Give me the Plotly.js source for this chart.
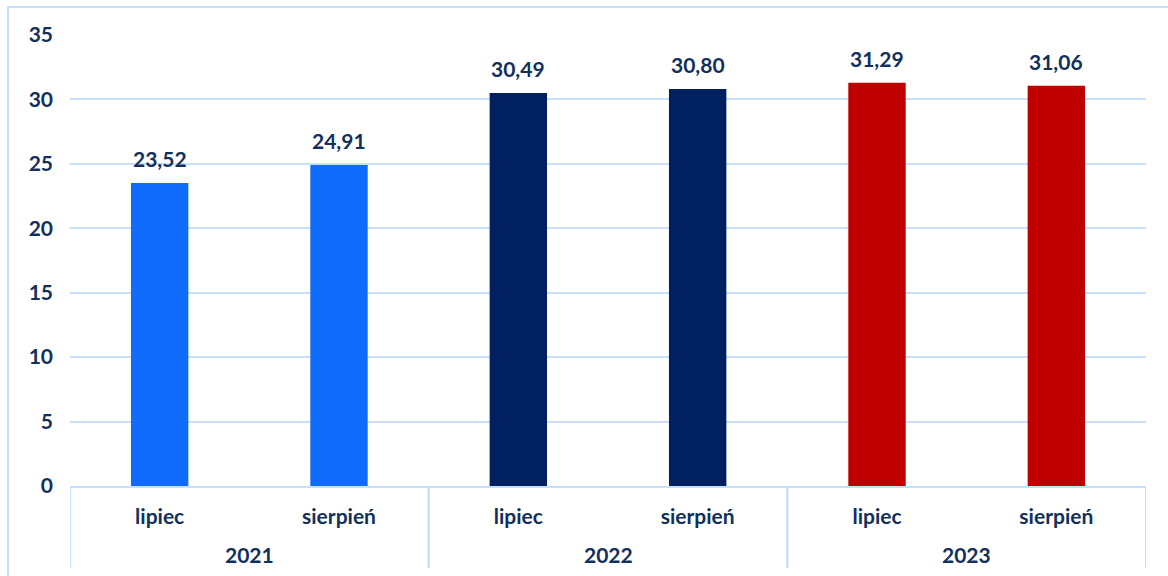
<!DOCTYPE html>
<html>
<head>
<meta charset="utf-8">
<script src="https://cdn.plot.ly/plotly-3.0.1.min.js"></script>
<style>
  html, body { margin: 0; padding: 0; background: #fff; }
  #frame { position: absolute; left: 7px; top: 6px; width: 1200px; height: 600px;
           border-left: 2px solid #c9defa; border-top: 2px solid #c9defa; box-sizing: border-box; }
  #chart { position: absolute; left: 0; top: 0; width: 1168px; height: 576px; }
</style>
</head>
<body>
<div id="frame"></div>
<div id="chart"></div>
<script>
// Monthly values per year
const years = ['2021', '2021', '2022', '2022', '2023', '2023'];
const months = ['lipiec', 'sierpień', 'lipiec', 'sierpień', 'lipiec', 'sierpień'];
const values = [23.52, 24.91, 30.49, 30.80, 31.29, 31.06];
const barColors = ['#0f6bfa', '#0f6bfa', '#002060', '#002060', '#c00000', '#c00000'];

const textColor = '#11305c';
const gridColor = '#c9defa';
const font = { family: 'Lato, sans-serif', size: 21, color: textColor, weight: 700 };

const pos = months.map((_, i) => i);
const fmt = v => v.toFixed(2).replace('.', ',');

const trace = {
  type: 'bar',
  x: pos,
  y: values,
  marker: { color: barColors },
  width: 0.32,
  hoverinfo: 'none'
};

// value labels above bars
const annotations = values.map((v, i) => ({
  x: pos[i], y: v, xref: 'x', yref: 'y',
  text: fmt(v), showarrow: false,
  yanchor: 'bottom', yshift: 10, font: font
}));

// year group labels and dividers
const groups = [...new Set(years)];
const shapes = [];
groups.forEach(g => {
  const idx = pos.filter(i => years[i] === g);
  const lo = Math.min(...idx) - 0.5, hi = Math.max(...idx) + 0.5;
  annotations.push({
    x: (lo + hi) / 2, y: -0.152, xref: 'x', yref: 'paper',
    text: g, showarrow: false, yanchor: 'middle', font: font
  });
  shapes.push({ type: 'line', xref: 'x', yref: 'paper', x0: lo, x1: lo, y0: 0, y1: -0.182,
                line: { color: gridColor, width: 2 } });
  shapes.push({ type: 'line', xref: 'x', yref: 'paper', x0: hi, x1: hi, y0: 0, y1: -0.182,
                line: { color: gridColor, width: 2 } });
});

const layout = {
  width: 1168,
  height: 576,
  margin: { l: 70, r: 22, t: 35, b: 90 },
  paper_bgcolor: 'rgba(0,0,0,0)',
  plot_bgcolor: 'rgba(0,0,0,0)',
  showlegend: false,
  font: font,
  annotations: annotations,
  shapes: shapes,
  xaxis: {
    range: [-0.5, 5.5],
    tickvals: pos,
    ticktext: months,
    showline: true,
    linecolor: gridColor,
    linewidth: 2,
    ticks: '',
    ticklabelstandoff: 11,
    showgrid: false,
    zeroline: false,
    tickfont: font
  },
  yaxis: {
    range: [0, 35],
    dtick: 5,
    tick0: 0,
    showgrid: true,
    gridcolor: gridColor,
    gridwidth: 2,
    zeroline: false,
    showline: false,
    ticks: '',
    ticklabelstandoff: 16,
    tickfont: font
  }
};

Plotly.newPlot('chart', [trace], layout, { displayModeBar: false, staticPlot: true });
</script>
</body>
</html>
